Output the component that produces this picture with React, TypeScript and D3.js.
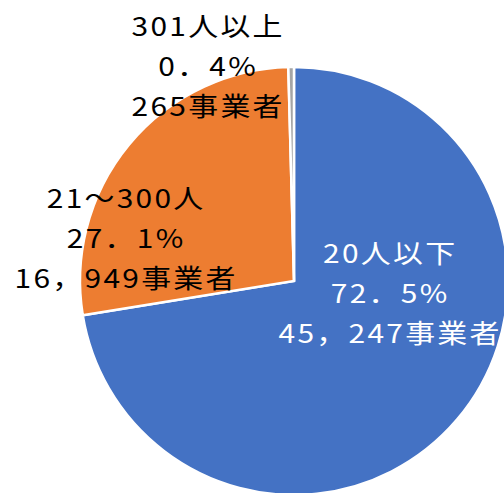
import React from "react";
import * as d3 from "d3";

const categories = ["20人以下", "21～300人", "301人以上"];
const percents = ["72．5%", "27．1%", "0．4%"];
const counts = [45247, 16949, 265];
const countLabels = ["45，247事業者", "16，949事業者", "265事業者"];
const colors = ["#4472C4", "#ED7D31", "#A5A5A5"];
const textColors = ["#FFFFFF", "#000000", "#000000"];

const W = 504;
const H = 493;
const cx = 294;
const cy = 281;
const R = 214;
// label centre offsets (layout, relative to pie centre)
const labelOffsets: [number, number][] = [
  [95, 11],
  [-169, -44],
  [-87, -216],
];

export default function App() {
  const pie = d3
    .pie<number>()
    .sort(null)
    .value((d) => d)
    .startAngle(0)
    .endAngle(2 * Math.PI);
  const arcs = pie(counts);
  const arc = d3.arc<d3.PieArcDatum<number>>().innerRadius(0).outerRadius(R);
  const lh = 40;
  const ls = 2;
  const sx = 1.15;
  return (
    <svg
      width={W}
      height={H}
      style={{ position: "absolute", left: 0, top: 0 }}
      fontFamily="'Noto Sans CJK JP', sans-serif"
    >
      <rect width={W} height={H} fill="#fff" />
      <g transform={`translate(${cx},${cy})`}>
        {arcs.map((a, i) => (
          <path key={i} d={arc(a) || ""} fill={colors[i]} stroke="#fff" strokeWidth={2.5} strokeLinejoin="miter" />
        ))}
        {arcs.map((a, i) => {
          const [ox, oy] = labelOffsets[i];
          const lines = [categories[i], percents[i], countLabels[i]];
          return (
            <g key={"l" + i}>
              {lines.map((t, j) => (
                <text
                  key={j}
                  transform={`translate(${ox},${oy + (j - 1) * lh}) scale(${sx},1)`}
                  x={ls / 2}
                  y={0}
                  textAnchor="middle"
                  dominantBaseline="central"
                  fontSize={26}
                  letterSpacing={ls}
                  fill={textColors[i]}
                >
                  {t}
                </text>
              ))}
            </g>
          );
        })}
      </g>
    </svg>
  );
}
